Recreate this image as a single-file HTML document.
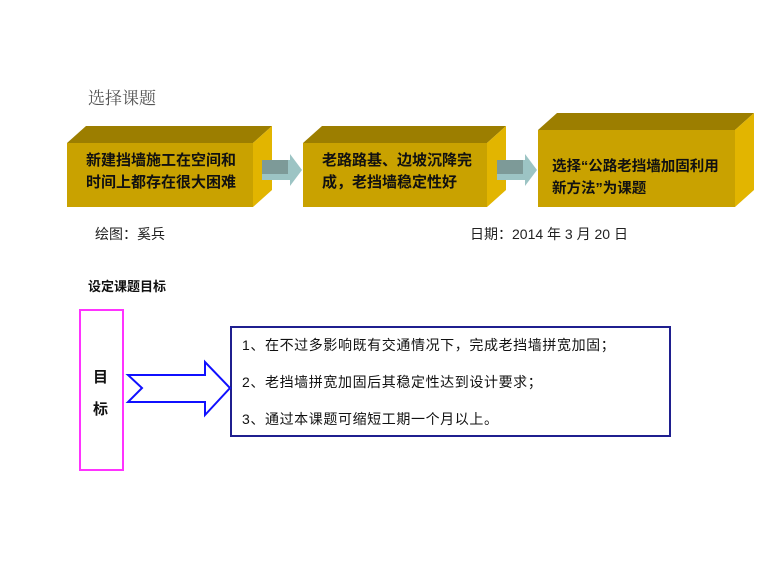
<!DOCTYPE html>
<html><head><meta charset="utf-8"><style>
body{margin:0;width:780px;height:586px;background:#fff;position:relative;overflow:hidden;font-family:"Liberation Sans","Noto Sans CJK SC",sans-serif}
.t{position:absolute;white-space:nowrap}
.b{position:absolute;font-weight:bold;font-size:15px;line-height:22px;color:#111}
.l{position:absolute;white-space:nowrap;font-size:14px;letter-spacing:0.6px;color:#111}
</style></head><body>
<svg width="780" height="586" style="position:absolute;left:0;top:0">
<polygon points="67,143 86,126 272,126 253,143" fill="#9c7e00"/>
<polygon points="253,143 272,126 272,190 253,207" fill="#e2b500"/>
<rect x="67" y="143" width="186" height="64" fill="#c9a200"/>
<polygon points="303,143 322,126 506,126 487,143" fill="#9c7e00"/>
<polygon points="487,143 506,126 506,190 487,207" fill="#e2b500"/>
<rect x="303" y="143" width="184" height="64" fill="#c9a200"/>
<polygon points="538,130 557,113 754,113 735,130" fill="#9c7e00"/>
<polygon points="735,130 754,113 754,190 735,207" fill="#e2b500"/>
<rect x="538" y="130" width="197" height="77" fill="#c9a200"/>
<polygon points="262,160 290,160 290,154 302,170 290,186 290,180 262,180" fill="#9cc4c4"/>
<rect x="262" y="160" width="26" height="14" fill="#7d9a98"/>
<polygon points="497,160 525,160 525,154 537,170 525,186 525,180 497,180" fill="#9cc4c4"/>
<rect x="497" y="160" width="26" height="14" fill="#7d9a98"/>
<rect x="80" y="310" width="43" height="160" fill="none" stroke="#ff33ff" stroke-width="2"/>
<rect x="231" y="327" width="439" height="109" fill="none" stroke="#1f1f8f" stroke-width="2"/>
<polygon points="128,375 205,375 205,362 230,388 205,415 205,402 128,402 142,388" fill="none" stroke="#1010ff" stroke-width="2"/>
</svg>
<div class="t" style="left:88px;top:84px;font-size:17px;color:#555;font-family:'Liberation Serif','Noto Serif CJK SC',serif">选择课题</div>
<div class="b" style="left:86px;top:150px">新建挡墙施工在空间和<br>时间上都存在很大困难</div>
<div class="b" style="left:322px;top:150px">老路路基、边坡沉降完<br>成，老挡墙稳定性好</div>
<div class="b" style="left:552px;top:156px;font-size:14.5px">选择“公路老挡墙加固利用<br>新方法”为课题</div>
<div class="t" style="left:95px;top:224px;font-size:14px;color:#222">绘图：奚兵</div>
<div class="t" style="left:470px;top:224px;font-size:14px;color:#222">日期：2014 年 3 月 20 日</div>
<div class="t" style="left:88px;top:276px;font-size:13px;font-weight:bold;color:#111">设定课题目标</div>
<div class="t" style="left:93px;top:366px;font-size:15px;font-weight:bold;color:#111">目</div>
<div class="t" style="left:93px;top:398px;font-size:15px;font-weight:bold;color:#111">标</div>
<div class="l" style="left:242px;top:335px">1、在不过多影响既有交通情况下，完成老挡墙拼宽加固；</div>
<div class="l" style="left:242px;top:372px">2、老挡墙拼宽加固后其稳定性达到设计要求；</div>
<div class="l" style="left:242px;top:409px">3、通过本课题可缩短工期一个月以上。</div>
</body></html>
